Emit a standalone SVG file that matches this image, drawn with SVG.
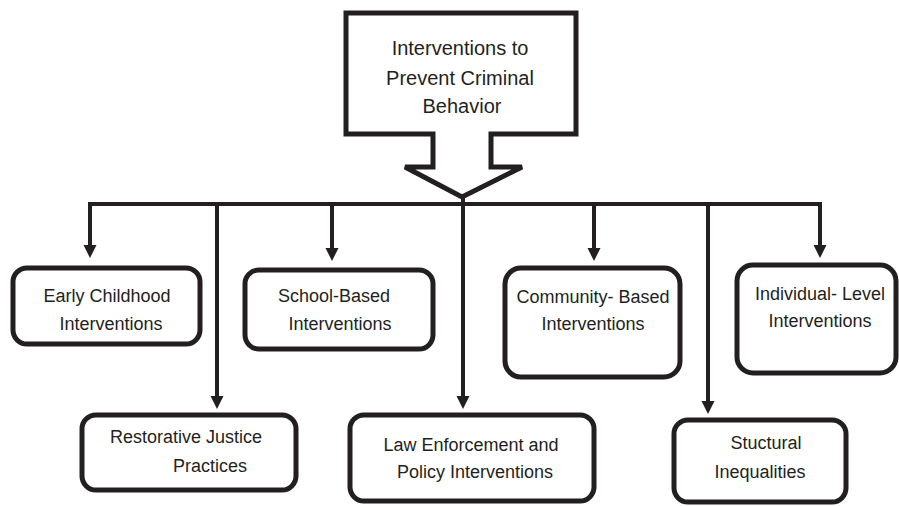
<svg xmlns="http://www.w3.org/2000/svg" width="899" height="506" viewBox="0 0 899 506">
  <style>
    .box { fill: #ffffff; stroke: #231f20; stroke-width: 5; }
    .callout { fill: #ffffff; stroke: #231f20; stroke-width: 5; stroke-linejoin: miter; }
    .wire { fill: none; stroke: #231f20; stroke-width: 4; }
    .label { font-family: "Liberation Sans", Arial, sans-serif; font-size: 18px; fill: #231f20; text-anchor: middle; }
    .title { font-size: 20px; }
  </style>
  <defs>
    <marker id="arrow" markerUnits="userSpaceOnUse" markerWidth="14" markerHeight="14" refX="3" refY="6.5" orient="auto">
      <path d="M0,0 L13,6.5 L0,13 Z" fill="#231f20"/>
    </marker>
  </defs>

  <rect width="899" height="506" fill="#ffffff"/>

  <!-- root: block arrow callout -->
  <g id="root">
    <path class="callout" d="M346,13 H576 V134 H491 V167 H522 L462,197 L405,167 H433 V134 H346 Z"/>
    <text class="label title" x="460" y="55">Interventions to</text>
    <text class="label title" x="460" y="85">Prevent Criminal</text>
    <text class="label title" x="462" y="113">Behavior</text>
  </g>

  <!-- connectors: bus line and drops -->
  <g id="connectors">
    <line class="wire" x1="88" y1="204" x2="822" y2="204"/>
    <line class="wire" x1="90" y1="202" x2="90" y2="248" marker-end="url(#arrow)"/>
    <line class="wire" x1="217" y1="204" x2="217" y2="399" marker-end="url(#arrow)"/>
    <line class="wire" x1="332" y1="204" x2="332" y2="251" marker-end="url(#arrow)"/>
    <line class="wire" x1="463" y1="197" x2="463" y2="399" marker-end="url(#arrow)"/>
    <line class="wire" x1="594" y1="204" x2="594" y2="251" marker-end="url(#arrow)"/>
    <line class="wire" x1="708" y1="204" x2="708" y2="404" marker-end="url(#arrow)"/>
    <line class="wire" x1="820" y1="202" x2="820" y2="248" marker-end="url(#arrow)"/>
  </g>

  <g id="early-childhood">
    <rect class="box" x="13" y="268" width="187" height="76" rx="14"/>
    <text class="label" x="107" y="302">Early Childhood</text>
    <text class="label" x="111" y="330">Interventions</text>
  </g>

  <g id="school-based">
    <rect class="box" x="245" y="270" width="188" height="79" rx="14"/>
    <text class="label" x="334" y="302">School-Based</text>
    <text class="label" x="340" y="330">Interventions</text>
  </g>

  <g id="community-based">
    <rect class="box" x="505" y="268" width="175" height="109" rx="16"/>
    <text class="label" x="593" y="303">Community- Based</text>
    <text class="label" x="593" y="330">Interventions</text>
  </g>

  <g id="individual-level">
    <rect class="box" x="737" y="265" width="159" height="108" rx="16"/>
    <text class="label" x="820" y="300">Individual- Level</text>
    <text class="label" x="820" y="327">Interventions</text>
  </g>

  <g id="restorative-justice">
    <rect class="box" x="82" y="415" width="214" height="75" rx="14"/>
    <text class="label" x="186" y="443">Restorative Justice</text>
    <text class="label" x="210" y="472">Practices</text>
  </g>

  <g id="law-enforcement">
    <rect class="box" x="350" y="415" width="244" height="86" rx="14"/>
    <text class="label" x="471" y="451">Law Enforcement and</text>
    <text class="label" x="475" y="478">Policy Interventions</text>
  </g>

  <g id="structural-inequalities">
    <rect class="box" x="674" y="420" width="172" height="82" rx="14"/>
    <text class="label" x="766" y="449">Stuctural</text>
    <text class="label" x="760" y="478">Inequalities</text>
  </g>
</svg>
